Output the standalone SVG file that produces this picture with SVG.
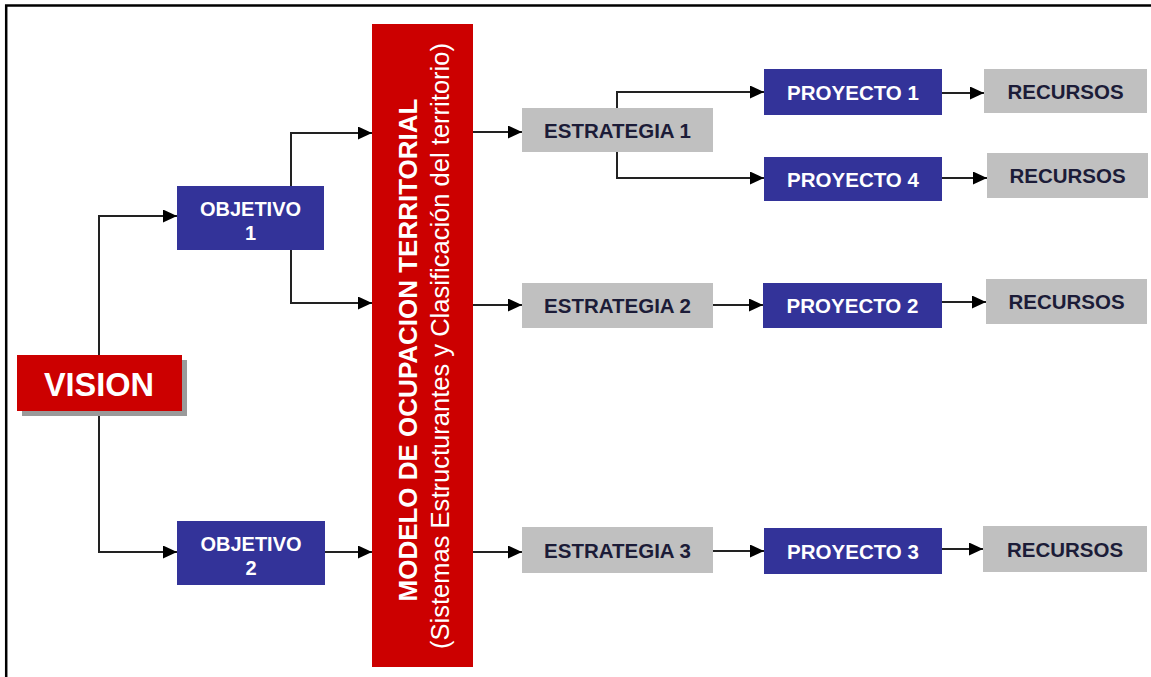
<svg xmlns="http://www.w3.org/2000/svg" width="1151" height="677" viewBox="0 0 1151 677">
<style>
.red{fill:#cc0000}
.blue{fill:#333399}
.gray{fill:#c0c0c0}
.t{font-family:"Liberation Sans",Arial,sans-serif;font-weight:bold;text-anchor:middle}
.w{fill:#ffffff}
.d{fill:#1c1c38}
.c{fill:none;stroke:#222;stroke-width:2;marker-end:url(#ah)}
</style>
<defs>
<marker id="ah" markerUnits="userSpaceOnUse" markerWidth="16" markerHeight="14" refX="14" refY="6.5" orient="auto">
<path d="M0,0 L14,6.5 L0,13 z" fill="#000"/>
</marker>
</defs>
<rect width="1151" height="677" fill="#ffffff"/>
<rect x="6.2" y="5.5" width="1160" height="700" fill="none" stroke="#000" stroke-width="2.5"/>
<g id="connectors">
<path class="c" d="M99,383 V216 H177"/>
<path class="c" d="M99,383 V552 H177"/>
<path class="c" d="M291,186 V133 H372"/>
<path class="c" d="M291,250 V303 H372"/>
<path class="c" d="M325,552 H372"/>
<path class="c" d="M473,132 H522"/>
<path class="c" d="M473,305 H522"/>
<path class="c" d="M473,552 H522"/>
<path class="c" d="M617,108 V92 H764"/>
<path class="c" d="M617,152 V178 H764"/>
<path class="c" d="M942,93 H984"/>
<path class="c" d="M942,178 H987"/>
<path class="c" d="M713,305 H763"/>
<path class="c" d="M942,302 H986"/>
<path class="c" d="M713,551 H764"/>
<path class="c" d="M942,549 H983"/>
</g>
<g id="vision">
<rect x="22" y="360" width="165" height="56" fill="#9a9a9a"/>
<rect class="red" x="17" y="355" width="165" height="56"/>
<text class="t w" x="99" y="395.5" font-size="32.5">VISION</text>
</g>
<g id="objetivo1">
<rect class="blue" x="177" y="186" width="147" height="64"/>
<text class="t w" x="250.5" y="216" font-size="20">OBJETIVO</text>
<text class="t w" x="250.5" y="240" font-size="20">1</text>
</g>
<g id="objetivo2">
<rect class="blue" x="177" y="521" width="148" height="64"/>
<text class="t w" x="251" y="551" font-size="20">OBJETIVO</text>
<text class="t w" x="251" y="575" font-size="20">2</text>
</g>
<g id="modelo">
<rect class="red" x="372" y="24" width="101" height="643"/>
<text class="t w" transform="translate(417,350) rotate(-90)" x="0" y="0" font-size="26" textLength="503">MODELO DE OCUPACION TERRITORIAL</text>
<text class="w" transform="translate(449,346) rotate(-90)" x="0" y="0" font-size="25.5" font-family="Liberation Sans, Arial, sans-serif" text-anchor="middle" textLength="606">(Sistemas Estructurantes y Clasificación del territorio)</text>
</g>
<g id="estrategia1">
<rect class="gray" x="522" y="108" width="191" height="44"/>
<text class="t d" x="617.5" y="137.5" font-size="20.5">ESTRATEGIA 1</text>
</g>
<g id="estrategia2">
<rect class="gray" x="522" y="283" width="191" height="45"/>
<text class="t d" x="617.5" y="313" font-size="20.5">ESTRATEGIA 2</text>
</g>
<g id="estrategia3">
<rect class="gray" x="522" y="527" width="191" height="46"/>
<text class="t d" x="617.5" y="557.5" font-size="20.5">ESTRATEGIA 3</text>
</g>
<g id="proyecto1">
<rect class="blue" x="764" y="69" width="178" height="46"/>
<text class="t w" x="853" y="99.5" font-size="20.5">PROYECTO 1</text>
</g>
<g id="proyecto4">
<rect class="blue" x="764" y="157" width="178" height="44"/>
<text class="t w" x="853" y="186.5" font-size="20.5">PROYECTO 4</text>
</g>
<g id="proyecto2">
<rect class="blue" x="763" y="283" width="179" height="45"/>
<text class="t w" x="852.5" y="313" font-size="20.5">PROYECTO 2</text>
</g>
<g id="proyecto3">
<rect class="blue" x="764" y="528" width="178" height="46"/>
<text class="t w" x="853" y="558.5" font-size="20.5">PROYECTO 3</text>
</g>
<g id="recursos1">
<rect class="gray" x="984" y="69" width="163" height="44"/>
<text class="t d" x="1065.5" y="98.5" font-size="20.5">RECURSOS</text>
</g>
<g id="recursos2">
<rect class="gray" x="987" y="153" width="161" height="45"/>
<text class="t d" x="1067.5" y="183" font-size="20.5">RECURSOS</text>
</g>
<g id="recursos3">
<rect class="gray" x="986" y="279" width="161" height="45"/>
<text class="t d" x="1066.5" y="309" font-size="20.5">RECURSOS</text>
</g>
<g id="recursos4">
<rect class="gray" x="983" y="526" width="164" height="46"/>
<text class="t d" x="1065" y="556.5" font-size="20.5">RECURSOS</text>
</g>
</svg>
